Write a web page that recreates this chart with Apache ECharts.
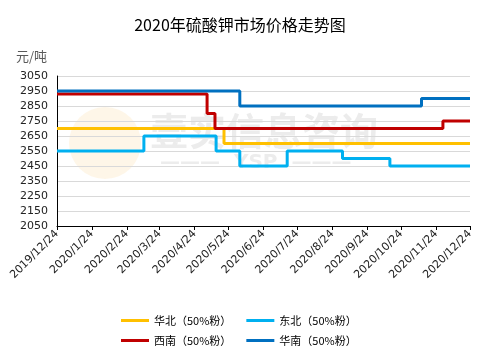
<!DOCTYPE html>
<html>
<head>
<meta charset="utf-8">
<script src="https://cdn.jsdelivr.net/npm/echarts@6/dist/echarts.min.js"></script>
<style>
html,body{margin:0;padding:0;background:#fff;}
#chart{width:480px;height:349px;}
</style>
</head>
<body>
<div id="chart"></div>
<script>
// ---- data ----
const titleText = '2020年硫酸钾市场价格走势图';
const unitLabel = '元/吨';
const xTickLabels = ['2019/12/24','2020/1/24','2020/2/24','2020/3/24','2020/4/24','2020/5/24','2020/6/24','2020/7/24','2020/8/24','2020/9/24','2020/10/24','2020/11/24','2020/12/24'];
const yTickValues = [2050,2150,2250,2350,2450,2550,2650,2750,2850,2950,3050];

const seriesNames = ['华北（50%粉）','东北（50%粉）','西南（50%粉）','华南（50%粉）'];

const huabeiDates  = ['2019/12/24','2020/5/20','2020/12/24'];
const huabeiPrices = [2700, 2600, 2600];

const dongbeiDates  = ['2019/12/24','2020/3/10','2020/5/13','2020/6/3','2020/7/15','2020/9/2','2020/10/14','2020/12/24'];
const dongbeiPrices = [2550, 2650, 2550, 2450, 2550, 2500, 2450, 2450];

const xinanDates  = ['2019/12/24','2020/5/5','2020/5/12','2020/11/30','2020/12/24'];
const xinanPrices = [2930, 2800, 2700, 2750, 2750];

const huananDates  = ['2019/12/24','2020/6/3','2020/11/11','2020/12/24'];
const huananPrices = [2950, 2850, 2900, 2900];

// ---- helpers ----
function toTs(s){ const p = s.split('/').map(Number); return new Date(p[0], p[1]-1, p[2]).getTime(); }
function pairs(dates, vals){ return dates.map((d,i)=>[toTs(d), vals[i]]); }
const xTickTs = xTickLabels.map(toTs);

const colors = ['#FFC000','#00B0F0','#C00000','#0070C0'];
const cjk = '"Noto Sans CJK SC", sans-serif';

function mkSeries(name, data, color){
  return {
    name: name, type: 'line', step: 'end', data: data, symbol: 'none',
    lineStyle: {color: color, width: 3}, itemStyle: {color: color},
    z: 3, animation: false
  };
}

const legendText = {fontFamily: cjk, fontSize: 11, color: '#000'};

const chart = echarts.init(document.getElementById('chart'), null, {renderer: 'canvas'});
chart.setOption({
  animation: false,
  backgroundColor: '#fff',
  title: {
    text: titleText, left: 'center', top: 12,
    textStyle: {fontFamily: cjk, fontSize: 16, fontWeight: 'normal', color: '#000'}
  },
  graphic: [
    {type: 'circle', z: 0, shape: {cx: 105, cy: 143, r: 36},
     style: {fill: 'rgba(253,234,205,0.45)'}, silent: true},
    {type: 'text', z: 0, left: 150, top: 112, silent: true,
     style: {text: '壹实信息咨询', fontFamily: cjk, fontSize: 38, fontWeight: 'bold', fill: 'rgba(218,218,218,0.5)'}},
    {type: 'text', z: 0, left: 160, top: 153, silent: true,
     style: {text: '———  YSP  ———', fontFamily: 'DejaVu Sans', fontSize: 20, fontWeight: 'bold', fill: 'rgba(218,218,218,0.5)'}}
  ],
  grid: {left: 57, right: 10, top: 76, bottom: 123, containLabel: false},
  legend: [
    {data: [seriesNames[0], seriesNames[1]], left: 116, top: 310, icon: 'rect',
     itemWidth: 28, itemHeight: 3, itemGap: 15, textStyle: legendText},
    {data: [seriesNames[2], seriesNames[3]], left: 116, top: 330, icon: 'rect',
     itemWidth: 28, itemHeight: 3, itemGap: 15, textStyle: legendText}
  ],
  xAxis: {
    type: 'value',
    min: xTickTs[0], max: xTickTs[xTickTs.length-1],
    axisLine: {lineStyle: {color: '#000', width: 1}},
    axisTick: {show: true, length: 4, customValues: xTickTs, lineStyle: {color: '#000'}},
    axisLabel: {
      customValues: xTickTs, rotate: 45, hideOverlap: false, margin: 6,
      fontFamily: 'DejaVu Sans', fontSize: 11, color: '#222',
      formatter: function(v){ const i = xTickTs.indexOf(v); return i >= 0 ? xTickLabels[i] : ''; }
    },
    splitLine: {show: false}
  },
  yAxis: {
    type: 'value', min: 2050, max: 3050,
    name: unitLabel, nameLocation: 'end', nameGap: 13,
    nameTextStyle: {fontFamily: cjk, fontSize: 13, color: '#595959', align: 'right', padding: [0, 10, 0, 0]},
    axisLine: {show: true, lineStyle: {color: '#000', width: 1}},
    axisTick: {show: false, customValues: yTickValues},
    axisLabel: {customValues: yTickValues, fontFamily: 'DejaVu Sans', fontSize: 11, color: '#222', margin: 9,
      formatter: function(v){ return String(v); }},
    splitLine: {show: true, lineStyle: {color: '#d9d9d9', width: 1}}
  },
  series: [
    mkSeries(seriesNames[0], pairs(huabeiDates, huabeiPrices), colors[0]),
    mkSeries(seriesNames[1], pairs(dongbeiDates, dongbeiPrices), colors[1]),
    mkSeries(seriesNames[2], pairs(xinanDates, xinanPrices), colors[2]),
    mkSeries(seriesNames[3], pairs(huananDates, huananPrices), colors[3])
  ]
});
</script>
</body>
</html>
